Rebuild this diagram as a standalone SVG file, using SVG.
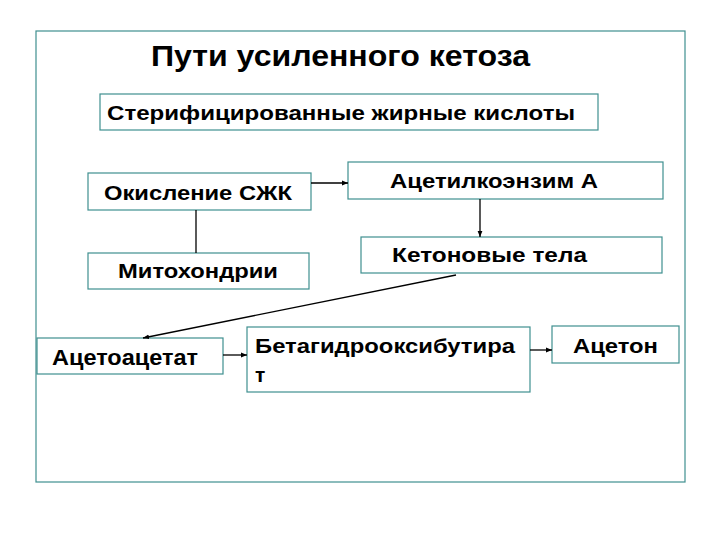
<svg xmlns="http://www.w3.org/2000/svg" width="720" height="540" viewBox="0 0 720 540">
<style>
.box{fill:#ffffff;stroke:#3f8f8f;stroke-width:1.2}
.t{font-family:"Liberation Sans",Arial,sans-serif;font-weight:bold;font-size:21px;fill:#000}
.c{stroke:#000;stroke-width:1.3;fill:none}
</style>
<defs>
<marker id="ah" viewBox="0 0 10 10" refX="10" refY="5" markerWidth="6" markerHeight="6" orient="auto" markerUnits="userSpaceOnUse">
<path d="M0,1 L10,5 L0,9 z" fill="#000"/>
</marker>
</defs>
<rect x="0" y="0" width="720" height="540" fill="#ffffff"/>
<rect x="36" y="31" width="649" height="451" fill="none" stroke="#3f8f8f" stroke-width="1.2"/>
<text x="151" y="66" class="t" style="font-size:30px" textLength="379" lengthAdjust="spacingAndGlyphs">Пути усиленного кетоза</text>
<g id="n-sterif"><rect class="box" x="100" y="94" width="498" height="36"/><text class="t" x="107" y="120" textLength="468" lengthAdjust="spacingAndGlyphs">Стерифицированные жирные кислоты</text></g>
<g id="n-okis"><rect class="box" x="88" y="173" width="223" height="37"/><text class="t" x="104" y="200" textLength="188" lengthAdjust="spacingAndGlyphs">Окисление СЖК</text></g>
<g id="n-mito"><rect class="box" x="88" y="253" width="221" height="36"/><text class="t" x="118" y="278" textLength="160" lengthAdjust="spacingAndGlyphs">Митохондрии</text></g>
<g id="n-acetil"><rect class="box" x="348" y="162" width="315" height="37"/><text class="t" x="390" y="188" textLength="208" lengthAdjust="spacingAndGlyphs">Ацетилкоэнзим А</text></g>
<g id="n-keton"><rect class="box" x="361" y="237" width="301" height="36"/><text class="t" x="392" y="262" textLength="195" lengthAdjust="spacingAndGlyphs">Кетоновые тела</text></g>
<g id="n-acetoac"><rect class="box" x="37" y="338" width="186" height="36"/><text class="t" x="52" y="365" style="font-size:22px" textLength="146" lengthAdjust="spacingAndGlyphs">Ацетоацетат</text></g>
<g id="n-beta"><rect class="box" x="247" y="327" width="283" height="65"/><text class="t" x="255" y="353" textLength="260" lengthAdjust="spacingAndGlyphs">Бетагидрооксибутира</text><text class="t" x="255" y="382">т</text></g>
<g id="n-aceton"><rect class="box" x="552" y="326" width="127" height="37"/><text class="t" x="573" y="353" textLength="85" lengthAdjust="spacingAndGlyphs">Ацетон</text></g>
<g id="connectors">
<line class="c" x1="311" y1="183" x2="348" y2="183" marker-end="url(#ah)"/>
<line class="c" x1="196" y1="210" x2="196" y2="253"/>
<line class="c" x1="480" y1="199" x2="480" y2="237" marker-end="url(#ah)"/>
<line class="c" x1="456" y1="275" x2="143" y2="338" marker-end="url(#ah)"/>
<line class="c" x1="223" y1="355" x2="247" y2="355" marker-end="url(#ah)"/>
<line class="c" x1="530" y1="350" x2="552" y2="350" marker-end="url(#ah)"/>
</g>
</svg>
